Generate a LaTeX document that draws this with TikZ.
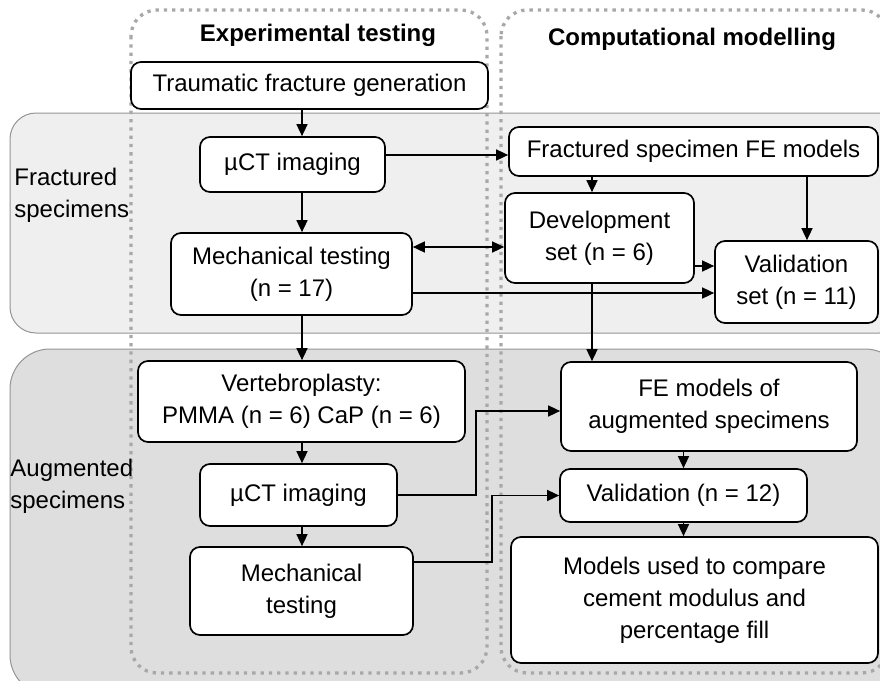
\documentclass[tikz,border=0pt]{standalone}
\usepackage{fontspec}
\setmainfont{Liberation Sans}
\usetikzlibrary{arrows.meta}
\definecolor{bandA}{HTML}{EEEFEE}
\definecolor{bandB}{HTML}{DEDEDE}
\definecolor{bandline}{HTML}{959595}
\definecolor{dotcol}{HTML}{A8A8A8}
\begin{document}
\begin{tikzpicture}[x=0.5pt,y=-0.5pt,
  box/.style={draw=black, fill=white, line width=0.85pt, rounded corners=5pt,
    align=center, inner sep=0pt, font=\fontsize{12}{16}\selectfont},
  arr/.style={line width=0.75pt, -{Triangle[length=6pt,width=5.5pt]}},
  darr/.style={line width=0.75pt, {Triangle[length=6pt,width=5.5pt]}-{Triangle[length=6pt,width=5.5pt]}},
  band/.style={draw=bandline, line width=0.5pt},
  dotbox/.style={draw=dotcol, line width=1.65pt, dash pattern=on 1.65pt off 2.5pt},
  lbl/.style={font=\fontsize{12}{16}\selectfont, align=left, inner sep=0pt},
  head/.style={font=\fontsize{12}{16}\selectfont\bfseries, inner sep=0pt}]
\useasboundingbox (0,0) rectangle (880,681);
\fill[white] (0,0) rectangle (880,681);
\clip (0,0) rectangle (880,681);
% bands
\draw[band, fill=bandA, rounded corners=13pt] (10,113) rectangle (905,333);
\draw[band, fill=bandB, rounded corners=20pt] (10,349) rectangle (905,695);
% dotted columns
\draw[dotbox, rounded corners=13pt] (131,10) rectangle (487,673);
\draw[dotbox, rounded corners=13pt] (501,10) rectangle (888,673);
% headings and side labels
\node[head] (hexp) at (318,35) {Experimental testing};
\node[head] (hcomp) at (692,39) {Computational modelling};
\node[lbl, anchor=west] (lfrac) at (14,195) {Fractured\\specimens};
\node[lbl, anchor=west] (laug) at (10,486) {Augmented\\specimens};
% boxes
\node[box, minimum width=178.5pt, minimum height=23.5pt] (trauma) at (309.5,85.5) {Traumatic fracture generation};
\node[box, minimum width=92.5pt, minimum height=27.5pt] (uct1) at (292.5,164.5) {µCT imaging};
\node[box, minimum width=120.5pt, minimum height=41pt] (mech1) at (291.5,274) {Mechanical testing\\(n = 17)};
\node[box, minimum width=184.5pt, minimum height=24.5pt] (fefr) at (693.5,151.5) {Fractured specimen FE models};
\node[box, minimum width=94.5pt, minimum height=45pt] (dev) at (599.5,238) {Development\\set (n = 6)};
\node[box, minimum width=81.5pt, minimum height=41pt] (val11) at (796.5,282) {Validation\\set (n = 11)};
\node[box, minimum width=163.5pt, minimum height=40.5pt] (vert) at (301.5,401.5) {Vertebroplasty:\\PMMA (n = 6) CaP (n = 6)};
\node[box, minimum width=98.5pt, minimum height=31pt] (uct2) at (298.5,495) {µCT imaging};
\node[box, minimum width=111.5pt, minimum height=44pt] (mech2) at (301.5,591) {Mechanical\\testing};
\node[box, minimum width=148pt, minimum height=44.5pt] (feaug) at (709,406.5) {FE models of\\augmented specimens};
\node[box, minimum width=123.5pt, minimum height=26.5pt] (val12) at (683.5,495.5) {Validation (n = 12)};
\node[box, minimum width=183.5pt, minimum height=63pt] (models) at (694.5,600) {Models used to compare\\cement modulus and\\percentage fill};
% helper coordinates
\coordinate (xl) at (302,0);
\coordinate (xd) at (592,0);
\coordinate (xv) at (807,0);
\coordinate (y1) at (0,155);
\coordinate (y2) at (0,247);
\coordinate (y3) at (0,293);
\coordinate (y4) at (0,266);
\coordinate (y5) at (0,562);
\coordinate (t1) at (476,411);
\coordinate (t2) at (492,495.5);
% connectors
\draw[arr] (trauma.south -| xl) -- (uct1.north -| xl);
\draw[arr] (uct1.south -| xl) -- (mech1.north -| xl);
\draw[arr] (mech1.south -| xl) -- (vert.north -| xl);
\draw[arr] (vert.south -| xl) -- (uct2.north -| xl);
\draw[arr] (uct2.south -| xl) -- (mech2.north -| xl);
\draw[arr] (uct1.east |- y1) -- (fefr.west |- y1);
\draw[darr] (mech1.east |- y2) -- (dev.west |- y2);
\draw[arr] (mech1.east |- y3) -- (val11.west |- y3);
\draw[arr] (fefr.south -| xd) -- (dev.north -| xd);
\draw[arr] (fefr.south -| xv) -- (val11.north -| xv);
\draw[arr] (dev.east |- y4) -- (val11.west |- y4);
\draw[arr] (dev.south -| xd) -- (feaug.north -| xd);
\draw[arr] (uct2.east) -| (t1) -- (t1 -| feaug.west);
\draw[arr] (mech2.east |- y5) -| (t2) -- (t2 -| val12.west);
\draw[arr] (val12.north |- feaug.south) -- (val12.north);
\draw[arr] (val12.south) -- (val12.south |- models.north);
\end{tikzpicture}
\end{document}
